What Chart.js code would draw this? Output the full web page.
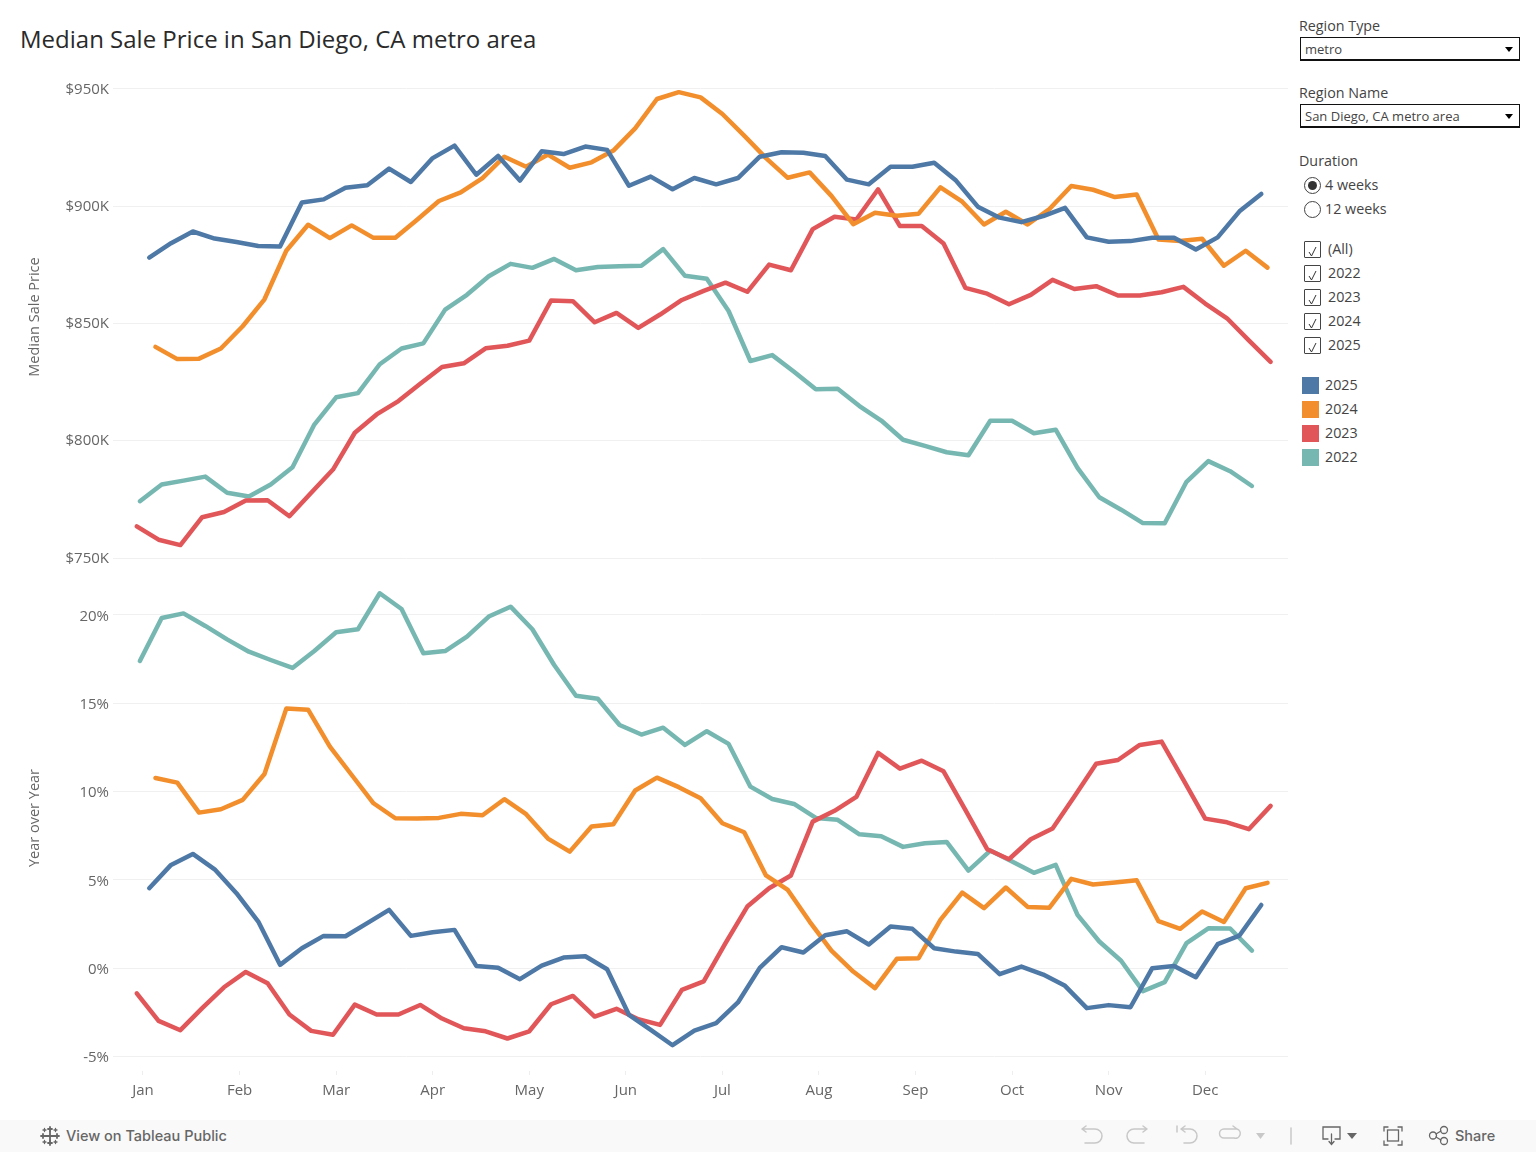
<!DOCTYPE html>
<html>
<head>
<meta charset="utf-8">
<title>Median Sale Price in San Diego, CA metro area</title>
<script src="https://cdn.jsdelivr.net/npm/chart.js@4/dist/chart.umd.min.js"></script>
<style>
    html, body { margin: 0; padding: 0; background: #fff; }
    body { width: 1536px; height: 1152px; position: relative; overflow: hidden; font-family: "Open Sans", sans-serif; color: #333; }
    canvas { position: absolute; left: 0; }
    #price-chart { top: 61px; }
    #yoy-chart { top: 545px; }
    .title { position: absolute; left: 20px; top: 22px; font-size: 24px; line-height: 34px; color: #2a2a2a; white-space: nowrap; }
    .side { position: absolute; font-size: 14.300px; line-height: 20px; white-space: nowrap; color: #444; }
    .drop { position: absolute; left: 1300px; width: 218px; height: 21px; border: 1px solid #111; border-bottom-width: 2px; font-size: 13px; line-height: 22px; text-indent: 4px; color: #444; }
    .drop::after { content: ""; position: absolute; right: 6px; top: 9px; border-left: 4px solid transparent; border-right: 4px solid transparent; border-top: 5px solid #000; }
    .radio { position: absolute; left: 1303.500px; width: 15px; height: 15px; border: 1px solid #444; border-radius: 50%; }
    .radio.on::after { content: ""; position: absolute; left: 3px; top: 3px; width: 9px; height: 9px; border-radius: 50%; background: #333; }
    .check { position: absolute; left: 1303.500px; width: 15px; height: 15px; border: 1px solid #444; border-radius: 1px; }
    .swatch { position: absolute; left: 1302px; width: 17px; height: 17px; }
    .footer { position: absolute; left: 0; top: 1120px; width: 1536px; height: 32px; background: #f9f9f9; }
    .footer span { position: absolute; font-family: Inter, sans-serif; font-size: 14.500px; font-weight: 500; line-height: 32px; color: #666; white-space: nowrap; }
    .footer svg { position: absolute; left: 0; top: 0; }
</style>
</head>
<body>
<div class="title">Median Sale Price in San Diego, CA metro area</div>
<canvas id="price-chart" width="1290" height="510"></canvas>
<canvas id="yoy-chart" width="1290" height="565"></canvas>
<div id="sidebar"></div>
<div class="footer">
    <span style="left:66px">View on Tableau Public</span>
    <span style="left:1455px">Share</span>
    <svg width="1536" height="32" fill="none" stroke-linecap="round">
        <g stroke="#666" stroke-width="1.800">
            <path d="M50 11v10M45 16h10"/>
            <path d="M50 7v4M48 9h4M50 21v4M48 23h4M43 14v4M41 16h4M57 14v4M55 16h4"/>
        </g>
        <g stroke="#666" stroke-width="1.300">
            <path d="M44.500 8.500v3M43 10h3M55.500 8.500v3M54 10h3M44.500 20.500v3M43 22h3M55.500 20.500v3M54 22h3"/>
        </g>
        <g stroke="#c8c8c8" stroke-width="1.500">
            <path d="M1082 9h13a5 5 0 0 1 0 14h-10M1082 9l4-3M1082 9l4 3"/>
            <path d="M1147 9h-13a5 5 0 0 0 0 14h10M1147 9l-4-3M1147 9l-4 3"/>
            <path d="M1177 6v6M1181 9h9a5 5 0 0 1 0 14h-6M1181 9l4-3M1181 9l4 3"/>
            <path d="M1237 9h-13a4.500 4.500 0 0 0 0 9h10a4.500 4.500 0 0 0 3-9M1237 9l-4-3"/>
            <path d="M1291 8v16"/>
        </g>
        <path d="M1256 13h9l-4.500 6z" fill="#c8c8c8"/>
        <path d="M1347 13h10l-5 6z" fill="#666"/>
        <g stroke="#666" stroke-width="1.300">
            <path d="M1328 19h-5v-12h17v12h-5M1331.500 14v10M1329 21.500l2.500 3 2.500-3"/>
            <path d="M1384 11V7h4M1398 7h4v4M1402 21v4h-4M1388 25h-4v-4"/>
            <rect x="1387.500" y="10" width="11" height="11"/>
            <circle cx="1444" cy="10" r="3.500"/><circle cx="1444" cy="21" r="3.500"/><circle cx="1433" cy="15.500" r="3.500"/>
            <path d="M1436 14l5-3M1436 17l5 3"/>
        </g>
    </svg>
</div>
<script>
const monthLabels = ['Jan', 'Feb', 'Mar', 'Apr', 'May', 'Jun', 'Jul', 'Aug', 'Sep', 'Oct', 'Nov', 'Dec'];
const monthDays = [0, 31, 62, 93, 124, 155, 186, 217, 248, 279, 310, 341];
const yearLabels = ['2025', '2024', '2023', '2022'];
const yearColors = ['#4e79a7', '#f28e2b', '#e15759', '#76b7b2'];
const firstDays = [2, 4, -2, -1];

const priceTicks = [750, 800, 850, 900, 950];
const yoyTicks = [-5, 0, 5, 10, 15, 20];

const price2025 = [878.1, 884.2, 889.2, 886.2, 884.7, 883.0, 882.8, 901.6, 902.9, 907.9, 908.9, 916.0, 910.3, 920.5, 925.8, 913.4, 921.4, 910.9, 923.4, 922.2, 925.4, 924.0, 908.7, 912.6, 907.2, 912.0, 909.3, 912.0, 921.1, 923.0, 922.8, 921.4, 911.3, 909.3, 916.8, 916.8, 918.5, 910.9, 899.8, 895.1, 893.2, 895.8, 899.3, 886.7, 884.8, 885.1, 886.5, 886.5, 881.5, 886.7, 897.8, 905.2];
const price2024 = [840.0, 834.8, 835.0, 839.3, 848.8, 860.3, 881.0, 892.1, 886.4, 891.8, 886.5, 886.5, 894.2, 902.2, 905.9, 912.0, 921.1, 916.8, 922.0, 916.4, 918.7, 923.7, 933.2, 945.7, 948.6, 946.4, 939.3, 930.1, 920.5, 912.1, 914.4, 904.4, 892.3, 897.2, 895.9, 896.8, 908.0, 901.9, 892.2, 897.6, 892.2, 898.8, 908.6, 907.0, 903.9, 905.0, 885.8, 885.2, 886.1, 874.6, 881.0, 873.8];
const price2023 = [763.5, 757.8, 755.5, 767.4, 769.6, 774.5, 774.6, 767.8, 777.8, 787.7, 803.4, 811.2, 816.9, 824.3, 831.4, 833.0, 839.4, 840.5, 842.7, 859.8, 859.5, 850.5, 854.5, 848.1, 853.8, 860.0, 863.9, 867.4, 863.5, 875.1, 872.7, 890.2, 895.5, 894.3, 907.2, 891.5, 891.6, 884.1, 865.2, 862.7, 858.2, 862.2, 868.6, 864.7, 865.9, 861.9, 861.9, 863.3, 865.6, 858.5, 852.2, 842.8, 833.6];
const price2022 = [774.2, 781.3, 783.0, 784.7, 777.8, 776.2, 781.3, 788.7, 806.9, 818.5, 820.3, 832.6, 839.3, 841.5, 855.9, 862.2, 870.1, 875.4, 873.7, 877.5, 872.7, 874.1, 874.4, 874.6, 881.7, 870.3, 869.1, 855.3, 834.0, 836.5, 829.4, 821.9, 822.2, 814.8, 808.6, 800.4, 797.8, 795.1, 793.8, 808.5, 808.5, 803.2, 804.7, 788.4, 775.9, 770.6, 764.9, 764.8, 782.5, 791.3, 787.0, 780.7];

const yoy2025 = [4.53, 5.85, 6.47, 5.60, 4.25, 2.64, 0.19, 1.13, 1.83, 1.81, 2.55, 3.30, 1.83, 2.04, 2.17, 0.13, 0.02, -0.62, 0.15, 0.60, 0.68, -0.06, -2.64, -3.49, -4.36, -3.53, -3.11, -1.94, 0.02, 1.19, 0.89, 1.87, 2.09, 1.34, 2.36, 2.23, 1.13, 0.94, 0.81, -0.34, 0.09, -0.36, -1.00, -2.26, -2.09, -2.21, 0.00, 0.13, -0.51, 1.36, 1.85, 3.58];
const yoy2024 = [10.77, 10.51, 8.81, 9.00, 9.53, 11.00, 14.70, 14.64, 12.55, 10.94, 9.34, 8.49, 8.47, 8.51, 8.74, 8.66, 9.57, 8.72, 7.34, 6.60, 8.02, 8.15, 10.06, 10.79, 10.25, 9.62, 8.21, 7.70, 5.25, 4.43, 2.64, 1.00, -0.19, -1.13, 0.53, 0.57, 2.74, 4.28, 3.40, 4.57, 3.47, 3.43, 5.06, 4.74, 4.85, 4.98, 2.66, 2.23, 3.21, 2.62, 4.53, 4.83];
const yoy2023 = [-1.42, -2.98, -3.51, -2.26, -1.08, -0.21, -0.85, -2.62, -3.55, -3.77, -2.06, -2.62, -2.62, -2.08, -2.85, -3.40, -3.57, -3.98, -3.57, -2.04, -1.57, -2.74, -2.30, -2.89, -3.21, -1.23, -0.75, 1.42, 3.49, 4.53, 5.25, 8.30, 8.91, 9.70, 12.19, 11.30, 11.75, 11.15, 8.96, 6.74, 6.17, 7.30, 7.91, 9.72, 11.58, 11.79, 12.64, 12.83, 10.66, 8.47, 8.26, 7.87, 9.19];
const yoy2022 = [17.40, 19.83, 20.09, 19.38, 18.62, 17.92, 17.45, 17.00, 17.96, 19.02, 19.19, 21.23, 20.34, 17.83, 17.96, 18.77, 19.91, 20.47, 19.19, 17.17, 15.43, 15.26, 13.77, 13.23, 13.62, 12.64, 13.42, 12.70, 10.28, 9.58, 9.30, 8.51, 8.40, 7.58, 7.47, 6.87, 7.08, 7.15, 5.53, 6.66, 6.04, 5.40, 5.85, 3.02, 1.51, 0.42, -1.30, -0.79, 1.42, 2.26, 2.25, 1.00];

const filterLabels = ['(All)', '2022', '2023', '2024', '2025'];
const fontFamily = '"Open Sans", sans-serif';
const gridColor = '#f0f0f0';
const textColor = '#666';

// one point per week, each year starts on its own day
function weekly(values, firstDay) {
    return values.map((v, i) => ({ x: firstDay + 7 * i, y: v }));
}

function buildDatasets(seriesList) {
    return seriesList.map((values, i) => ({
        label: yearLabels[i],
        data: weekly(values, firstDays[i]),
        borderColor: yearColors[i],
        backgroundColor: yearColors[i],
        borderWidth: 4.5,
        borderCapStyle: 'round',
        borderJoinStyle: 'round',
        pointRadius: 0,
        tension: 0
    }));
}

function xScale(showLabels) {
    return {
        type: 'linear',
        display: showLabels,
        min: -9.63,
        max: 367.58,
        afterBuildTicks: axis => { axis.ticks = monthDays.map(v => ({ value: v })); },
        afterFit: axis => { axis.height = showLabels ? 39 : 0; },
        border: { display: false },
        grid: { drawOnChartArea: false, drawTicks: true, tickLength: 4, tickColor: '#eeeeee' },
        ticks: {
            autoSkip: false,
            maxRotation: 0,
            padding: 7,
            color: textColor,
            font: { family: fontFamily, size: 15 },
            callback: value => monthLabels[monthDays.indexOf(value)]
        }
    };
}

function yScale(min, max, tickValues, title, format, labelOffset) {
    return {
        min: min,
        max: max,
        afterBuildTicks: axis => { axis.ticks = tickValues.map(v => ({ value: v })); },
        afterFit: axis => { axis.width = 113; },
        border: { display: false },
        grid: { color: gridColor, drawTicks: false },
        title: {
            display: true,
            text: title,
            color: textColor,
            font: { family: fontFamily, size: 14.5 },
            padding: { top: 26, bottom: 0 }
        },
        ticks: {
            padding: 4,
            labelOffset: labelOffset,
            color: textColor,
            font: { family: fontFamily, size: 15 },
            callback: format
        }
    };
}

function drawChart(id, seriesList, x, y, padding) {
    return new Chart(document.getElementById(id).getContext('2d'), {
        type: 'line',
        data: { datasets: buildDatasets(seriesList) },
        options: {
            responsive: false,
            animation: false,
            layout: { padding: padding },
            plugins: { legend: { display: false }, tooltip: { enabled: false } },
            scales: { x: x, y: y }
        }
    });
}

drawChart('price-chart', [price2025, price2024, price2023, price2022], xScale(false),
    yScale(750, 955.5, priceTicks, 'Median Sale Price', v => '$' + v + 'K', 0.5),
    { top: 15, bottom: 13, right: 2, left: 0 });

drawChart('yoy-chart', [yoy2025, yoy2024, yoy2023, yoy2022], xScale(true),
    yScale(-5.82, 22.83, yoyTicks, 'Year over Year', v => v + '%', 1.5),
    { top: 20, bottom: 0, right: 2, left: 0 });

// filters and legend down the right side
const sidebar = document.getElementById('sidebar');
let html = '';
function sideText(text, left, centerY) {
    return `<div class="side" style="left:${left}px;top:${centerY - 10}px">${text}</div>`;
}
html += sideText('Region Type', 1299, 26);
html += '<div class="drop" style="top:37px">metro</div>';
html += sideText('Region Name', 1299, 93);
html += '<div class="drop" style="top:104px">San Diego, CA metro area</div>';
html += sideText('Duration', 1299, 161);
html += '<div class="radio on" style="top:177px"></div>' + sideText('4 weeks', 1325, 185);
html += '<div class="radio" style="top:201px"></div>' + sideText('12 weeks', 1325, 209);
filterLabels.forEach((label, i) => {
    const cy = 249 + 24 * i;
    html += `<div class="check" style="top:${cy - 8}px"><svg width="15" height="15" fill="none" stroke="#333" stroke-width="1"><path d="M4 8l2.500 4L11 3"/></svg></div>`;
    html += sideText(label, 1328, cy);
});
yearLabels.forEach((label, i) => {
    const cy = 385 + 24 * i;
    html += `<div class="swatch" style="top:${cy - 8}px;background:${yearColors[i]}"></div>`;
    html += sideText(label, 1325, cy);
});
sidebar.innerHTML = html;
</script>
</body>
</html>
